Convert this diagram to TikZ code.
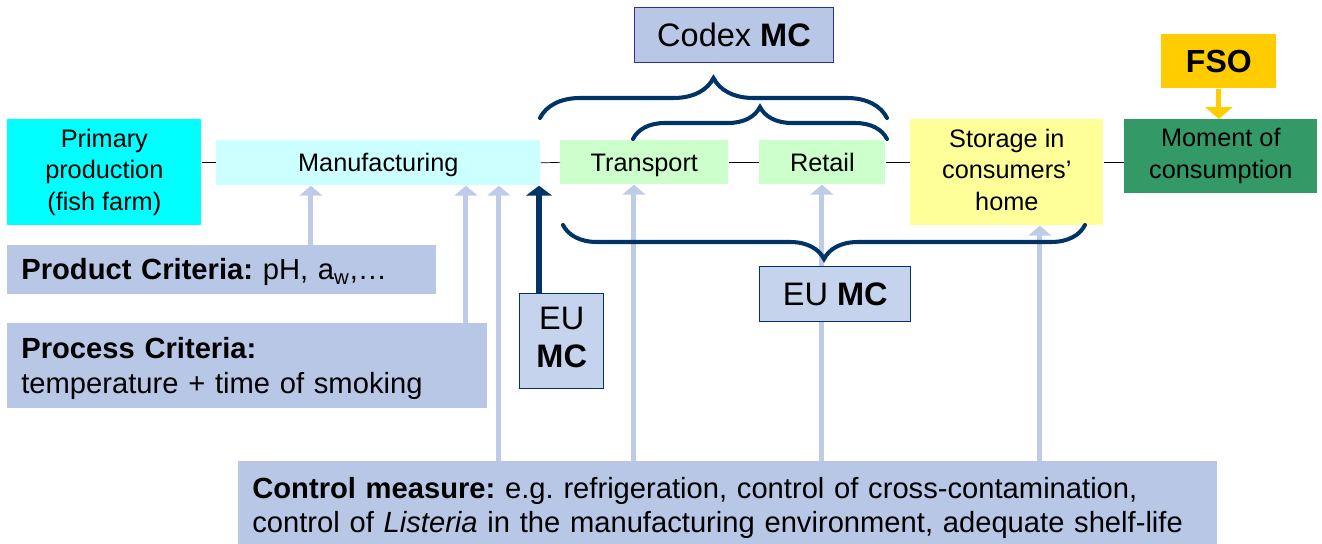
\documentclass[tikz,border=0pt]{standalone}
\usepackage{fontspec}
\setmainfont{Liberation Sans}
\frenchspacing
\usetikzlibrary{arrows.meta,decorations.pathreplacing}
\definecolor{critblue}{RGB}{185,199,230}
\definecolor{feedblue}{RGB}{190,204,232}
\definecolor{navy}{RGB}{0,51,102}
\definecolor{mcfill}{RGB}{197,211,236}
\definecolor{codexline}{RGB}{46,49,146}
\definecolor{primcyan}{RGB}{0,255,255}
\definecolor{mfgcyan}{RGB}{204,255,255}
\definecolor{palegreen}{RGB}{204,255,204}
\definecolor{paleyellow}{RGB}{255,255,153}
\definecolor{momgreen}{RGB}{51,153,102}
\definecolor{fsogold}{RGB}{255,204,0}
\tikzset{
  lines/.style={execute at begin node={\rule{0pt}{0.91em}},execute at end node={\rule[-0.22em]{0pt}{0pt}}},
  stage/.style={lines,inner sep=0pt,align=center,anchor=north west,font=\fontsize{14.4}{17.9}\selectfont},
  crit/.style={lines,fill=critblue,inner xsep=0.28cm,inner ysep=0pt,align=left,anchor=north west,font=\fontsize{16.6}{19.5}\selectfont},
  mcbox/.style={lines,fill=mcfill,draw=navy,line width=0.8pt,inner sep=0pt,align=center,anchor=north west,font=\fontsize{18.5}{21.8}\selectfont},
  feed/.style={-{Triangle[width=13pt,length=5.7pt]},line width=2.8pt,feedblue},
  mcfeed/.style={-{Triangle[width=14.7pt,length=5.7pt]},line width=3.2pt,navy},
  mcbrace/.style={decorate,line width=2.3pt,line cap=round,navy}
}
\begin{document}
\begin{tikzpicture}[x=0.02cm,y=0.02cm]
\useasboundingbox (0,0) rectangle (1322,-544);
\node[stage,fill=primcyan,minimum width=3.88cm,minimum height=2.12cm] (prim) at (7,-119) {Primary\\production\\(fish farm)};
\node[stage,fill=mfgcyan,minimum width=6.48cm,minimum height=0.9cm] (mfg) at (216,-140) {Manufacturing};
\node[stage,fill=palegreen,minimum width=3.36cm,minimum height=0.88cm] (trans) at (560,-140) {Transport};
\node[stage,fill=palegreen,minimum width=2.52cm,minimum height=0.88cm] (retail) at (759,-140) {Retail};
\node[stage,fill=paleyellow,minimum width=3.86cm,minimum height=2.12cm] (stor) at (910,-119) {Storage in\\consumers'\\home};
\node[stage,fill=momgreen,minimum width=3.86cm,minimum height=1.48cm] (mom) at (1124,-119) {Moment of\\consumption};
\node[stage,fill=fsogold,minimum width=2.3cm,minimum height=1.08cm,font=\fontsize{18.2}{21}\selectfont\bfseries] (fso) at (1161,-34) {FSO};

\draw (prim.east |- mfg.west) -- (mfg.west);
\draw (mfg.east) -- (trans.west);
\draw (trans.east) -- (retail.west);
\draw (retail.east) -- (stor.west |- retail.east);
\draw (stor.east |- retail.east) -- (mom.west |- retail.east);
\draw[-{Triangle[width=15.3pt,length=6.8pt]},line width=2.8pt,fsogold] (fso.south) -- (fso.south |- mom.north);

\node[crit,text width=8.02cm,minimum height=0.98cm] (prod) at (7,-245) {\textbf{Product Criteria:} pH, a\textsubscript{w},…};
\node[crit,text width=9.04cm,minimum height=1.7cm] (proc) at (7,-323) {\textbf{Process Criteria:}\\temperature + time of smoking};
\node[crit,text width=19.02cm,minimum height=1.76cm] (ctrl) at (238,-461) {\textbf{Control measure:} e.g. refrigeration, control of cross-contamination,\\control of \textit{Listeria} in the manufacturing environment, adequate shelf-life};

\draw[feed] ([xshift=6.08cm]prod.north west) -- ([xshift=6.08cm]prod.north west |- mfg.south);
\draw[feed] ([xshift=9.18cm]proc.north west) -- ([xshift=9.18cm]proc.north west |- mfg.south);
\draw[feed] ([xshift=5.22cm]ctrl.north west) -- ([xshift=5.22cm]ctrl.north west |- mfg.south);
\draw[feed] ([xshift=7.92cm]ctrl.north west) -- ([xshift=7.92cm]ctrl.north west |- trans.south);
\draw[feed] ([xshift=11.68cm]ctrl.north west) -- ([xshift=11.68cm]ctrl.north west |- retail.south);
\draw[feed] ([xshift=16.04cm]ctrl.north west) -- ([xshift=16.04cm]ctrl.north west |- stor.south);

\coordinate (outerl) at (540,-118);
\coordinate (outerr) at (887,-118);
\coordinate (innerl) at (633,-139);
\coordinate (innerr) at (887,-139);
\coordinate (eul) at (563,-225);
\coordinate (eur) at (1085,-225);
\draw[mcbrace,decoration={brace,amplitude=0.8cm}] (outerl) -- (outerr);
\draw[mcbrace,decoration={brace,amplitude=0.64cm}] (innerl) -- (innerr);
\draw[mcbrace,decoration={brace,amplitude=0.68cm}] (eur) -- (eul);

\node[mcbox,minimum width=3.02cm,minimum height=1.1cm] (eubig) at (759,-266) {EU \textbf{MC}};
\node[mcbox,minimum width=1.68cm,minimum height=1.9cm] (eusmall) at (519,-293) {EU\\\textbf{MC}};
\node[mcbox,fill=critblue,draw=codexline,line width=0.6pt,minimum width=3.98cm,minimum height=1.1cm] (codex) at (634,-7) {Codex \textbf{MC}};

\draw[mcfeed] ([xshift=0.4cm]eusmall.north west) -- ([xshift=0.4cm]eusmall.north west |- mfg.south);
\end{tikzpicture}
\end{document}
